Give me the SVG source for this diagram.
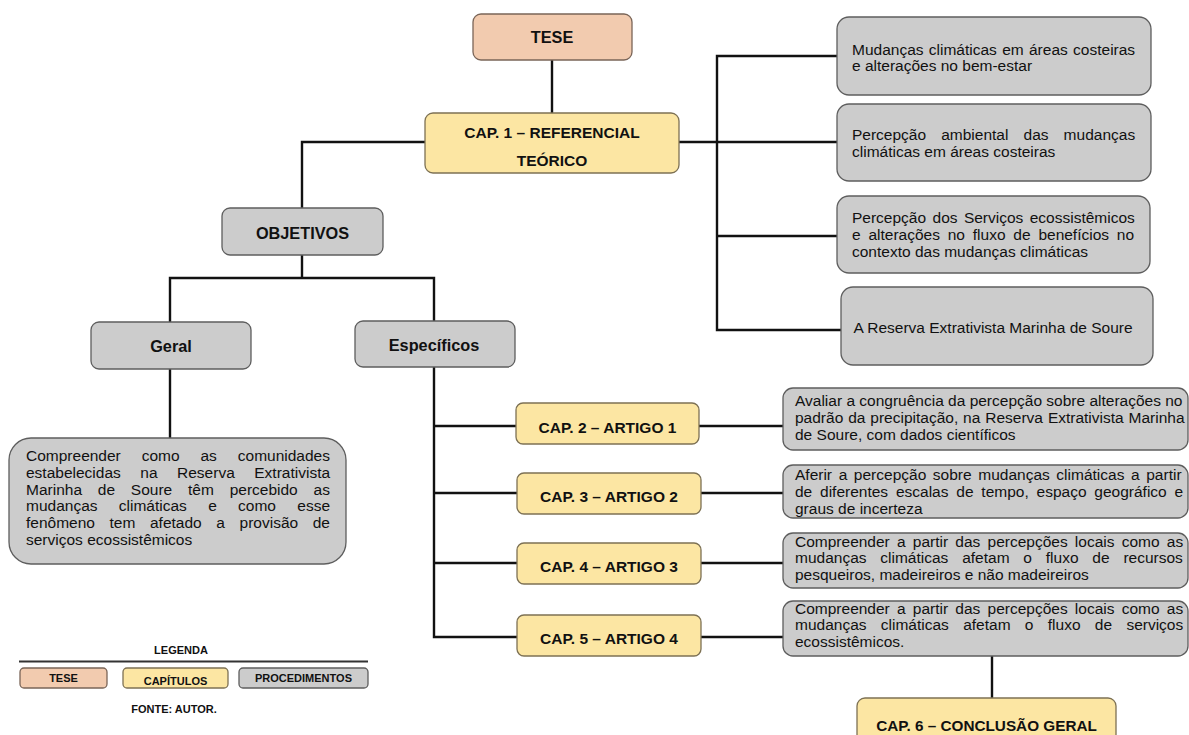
<svg xmlns="http://www.w3.org/2000/svg" width="1189" height="735" viewBox="0 0 1189 735">
<style>
.t{font-family:"Liberation Sans",Arial,sans-serif;font-size:15.5px;fill:#111}
.b{font-family:"Liberation Sans",Arial,sans-serif;font-weight:bold;fill:#111;text-anchor:middle}
.gray{fill:#cccccc;stroke:#5e5e5e;stroke-width:1.3}
.yel{fill:#fce6a3;stroke:#7d7154;stroke-width:1.3}
.tese{fill:#f2cbaf;stroke:#7a6558;stroke-width:1.3}
.con{fill:none;stroke:#111;stroke-width:2.4}
</style>
<rect width="1189" height="735" fill="#ffffff"/>
<g id="connectors">
<path class="con" d="M552 60V113"/>
<path class="con" d="M425 142H302V208"/>
<path class="con" d="M679 142H837"/>
<path class="con" d="M837 56H717V330H841"/>
<path class="con" d="M717 236H837"/>
<path class="con" d="M302 255V278M170 322V278H434V321"/>
<path class="con" d="M170 369V438"/>
<path class="con" d="M434 367V637H517"/>
<path class="con" d="M434 426H516M434 493H517M434 563H517"/>
<path class="con" d="M699 426H783M701 493H783M701 563H783M701 637H783"/>
<path class="con" d="M992 656V698"/>
</g>
<g id="tese">
<rect class="tese" x="473" y="14" width="159" height="46" rx="8"/>
<text class="b" x="552" y="42.5" font-size="16.3">TESE</text>
</g>
<g id="cap1">
<rect class="yel" x="425" y="113" width="254" height="60" rx="8"/>
<text class="b" x="552" y="138" font-size="15.5">CAP. 1 – REFERENCIAL</text>
<text class="b" x="552" y="165.5" font-size="15.5">TEÓRICO</text>
</g>
<g id="ref1">
<rect class="gray" x="837" y="17" width="314" height="78" rx="12"/>
<text class="t" x="852" y="55" style="word-spacing:1px">Mudanças climáticas em áreas costeiras</text>
<text class="t" x="852" y="71">e alterações no bem-estar</text>
</g>
<g id="ref2">
<rect class="gray" x="837" y="104" width="314" height="77" rx="12"/>
<text class="t" x="852" y="140" style="word-spacing:10.8px">Percepção ambiental das mudanças</text>
<text class="t" x="852" y="156.7">climáticas em áreas costeiras</text>
</g>
<g id="ref3">
<rect class="gray" x="837" y="196" width="313" height="77" rx="12"/>
<text class="t" x="852" y="223" style="word-spacing:2.1px">Percepção dos Serviços ecossistêmicos</text>
<text class="t" x="852" y="239.7" style="word-spacing:3.5px">e alterações no fluxo de benefícios no</text>
<text class="t" x="852" y="256.5">contexto das mudanças climáticas</text>
</g>
<g id="ref4">
<rect class="gray" x="841" y="287" width="312" height="78" rx="12"/>
<text class="t" x="993" y="333" text-anchor="middle">A Reserva Extrativista Marinha de Soure</text>
</g>
<g id="objetivos">
<rect class="gray" x="222" y="208" width="161" height="47" rx="8"/>
<text class="b" x="302.5" y="239" font-size="16.3">OBJETIVOS</text>
</g>
<g id="geral">
<rect class="gray" x="91" y="322" width="160" height="47" rx="8"/>
<text class="b" x="171" y="351.5" font-size="16.3">Geral</text>
</g>
<g id="especificos">
<rect class="gray" x="355" y="321" width="160" height="46" rx="8"/>
<text class="b" x="434" y="351" font-size="16.3">Específicos</text>
</g>
<g id="objetivo-geral">
<rect class="gray" x="9" y="438" width="337" height="126" rx="22"/>
<text class="t" x="26" y="460.7" style="word-spacing:16.6px">Compreender como as comunidades</text>
<text class="t" x="26" y="477.6" style="word-spacing:15.2px">estabelecidas na Reserva Extrativista</text>
<text class="t" x="26" y="494.5" style="word-spacing:11.5px">Marinha de Soure têm percebido as</text>
<text class="t" x="26" y="511.4" style="word-spacing:17px">mudanças climáticas e como esse</text>
<text class="t" x="26" y="528.3" style="word-spacing:10.3px">fenômeno tem afetado a provisão de</text>
<text class="t" x="26" y="545.2">serviços ecossistêmicos</text>
</g>
<g id="cap2">
<rect class="yel" x="516" y="403" width="183" height="41" rx="7"/>
<text class="b" x="607.5" y="433" font-size="15.5">CAP. 2 – ARTIGO 1</text>
</g>
<g id="cap3">
<rect class="yel" x="517" y="473" width="184" height="41" rx="7"/>
<text class="b" x="609" y="501.5" font-size="15.5">CAP. 3 – ARTIGO 2</text>
</g>
<g id="cap4">
<rect class="yel" x="517" y="543" width="184" height="41" rx="7"/>
<text class="b" x="609" y="572" font-size="15.5">CAP. 4 – ARTIGO 3</text>
</g>
<g id="cap5">
<rect class="yel" x="517" y="615" width="184" height="41" rx="7"/>
<text class="b" x="609" y="644" font-size="15.5">CAP. 5 – ARTIGO 4</text>
</g>
<g id="art1">
<rect class="gray" x="783" y="388" width="405" height="62" rx="10"/>
<text class="t" x="795" y="406">Avaliar a congruência da percepção sobre alterações no</text>
<text class="t" x="795" y="422.7" style="word-spacing:0.6px">padrão da precipitação, na Reserva Extrativista Marinha</text>
<text class="t" x="795" y="439.5">de Soure, com dados científicos</text>
</g>
<g id="art2">
<rect class="gray" x="783" y="465" width="405" height="53" rx="10"/>
<text class="t" x="795" y="480" style="word-spacing:2.3px">Aferir a percepção sobre mudanças climáticas a partir</text>
<text class="t" x="795" y="497" style="word-spacing:3.5px">de diferentes escalas de tempo, espaço geográfico e</text>
<text class="t" x="795" y="514">graus de incerteza</text>
</g>
<g id="art3">
<rect class="gray" x="783" y="533" width="405" height="55" rx="10"/>
<text class="t" x="795" y="546.7" style="word-spacing:2.9px">Compreender a partir das percepções locais como as</text>
<text class="t" x="795" y="563.3" style="word-spacing:9.5px">mudanças climáticas afetam o fluxo de recursos</text>
<text class="t" x="795" y="580">pesqueiros, madeireiros e não madeireiros</text>
</g>
<g id="art4">
<rect class="gray" x="783" y="601" width="405" height="55" rx="10"/>
<text class="t" x="795" y="613.5" style="word-spacing:2.9px">Compreender a partir das percepções locais como as</text>
<text class="t" x="795" y="630.2" style="word-spacing:10px">mudanças climáticas afetam o fluxo de serviços</text>
<text class="t" x="795" y="647">ecossistêmicos.</text>
</g>
<g id="cap6">
<rect class="yel" x="857" y="698" width="259" height="50" rx="8"/>
<text class="b" x="986.5" y="731" font-size="15.3">CAP. 6 – CONCLUSÃO GERAL</text>
</g>
<g id="legenda">
<text class="b" x="181" y="654" font-size="11">LEGENDA</text>
<path d="M19 661.5H368" stroke="#333" stroke-width="2"/>
<rect class="tese" x="20" y="668" width="87" height="20" rx="4"/>
<text class="b" x="63.5" y="682" font-size="11">TESE</text>
<rect class="yel" x="123" y="668" width="105" height="20" rx="4"/>
<text class="b" x="175.5" y="685" font-size="11">CAPÍTULOS</text>
<rect class="gray" x="239" y="668" width="129" height="20" rx="4"/>
<text class="b" x="303.5" y="682" font-size="11">PROCEDIMENTOS</text>
<text class="b" x="174" y="713" font-size="11">FONTE: AUTOR.</text>
</g>
</svg>
